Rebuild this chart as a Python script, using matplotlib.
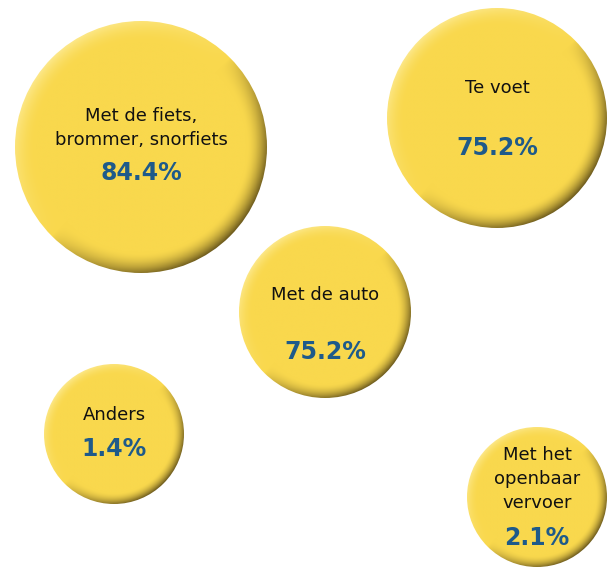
import numpy as np
import matplotlib
matplotlib.use("Agg")
import matplotlib.pyplot as plt
from matplotlib.patches import Circle
from matplotlib.colors import to_rgb

# data
categories = ["Met de fiets,\nbrommer, snorfiets", "Te voet", "Met de auto",
              "Anders", "Met het\nopenbaar\nvervoer"]
values = [84.4, 75.2, 75.2, 1.4, 2.1]

# layout (pixels, y downward)
centers = [(141, 147), (497, 118), (325, 312), (114, 434), (537, 497)]
radii = [126, 110, 86, 70, 70]
label_y = [128, 88, 295, 415, 479]
value_y = [173, 148, 352, 449, 538]

W, H = 609, 570
fig = plt.figure(figsize=(W / 100, H / 100), dpi=100)
ax = fig.add_axes([0, 0, 1, 1])
ax.set_xlim(0, W)
ax.set_ylim(H, 0)
ax.axis("off")

base = np.array(to_rgb("#F9D84D"))
dark = np.array(to_rgb("#5E4D18"))
light = np.array(to_rgb("#FFF2B0"))

def shaded_disc(cx, cy, r):
    n = 300
    xs = np.linspace(-1, 1, n)
    X, Y = np.meshgrid(xs, xs)
    D = np.sqrt(X**2 + Y**2)
    D = np.clip(D, 1e-6, None)
    dirv = (X + Y) / (np.sqrt(2) * D)
    rim = np.clip((D - 0.84) / 0.16, 0, 1) ** 1.8
    dk = rim * np.clip(dirv, 0, 1) ** 0.7 * 0.9
    lt = rim * np.clip(-dirv, 0, 1) * 0.6
    img = base[None, None, :] * (1 - dk[..., None]) + dark[None, None, :] * dk[..., None]
    img = img * (1 - lt[..., None]) + light[None, None, :] * lt[..., None]
    im = ax.imshow(img, extent=(cx - r, cx + r, cy + r, cy - r), origin="upper",
                   interpolation="bilinear", zorder=2)
    clip = Circle((cx, cy), r, transform=ax.transData, facecolor="none", edgecolor="none")
    ax.add_patch(clip)
    im.set_clip_path(clip)

for (cx, cy), r, lab, v, ly, vy in zip(centers, radii, categories, values, label_y, value_y):
    shaded_disc(cx, cy, r)
    ax.text(cx, ly, lab, ha="center", va="center", fontsize=13, color="#111111",
            linespacing=1.45, zorder=3)
    ax.text(cx, vy, f"{v:.1f}%", ha="center", va="center", fontsize=17,
            fontweight="bold", color="#1E5A8A", zorder=3)

ax.set_xlim(0, W)
ax.set_ylim(H, 0)
fig.savefig("out.png", dpi=100)
